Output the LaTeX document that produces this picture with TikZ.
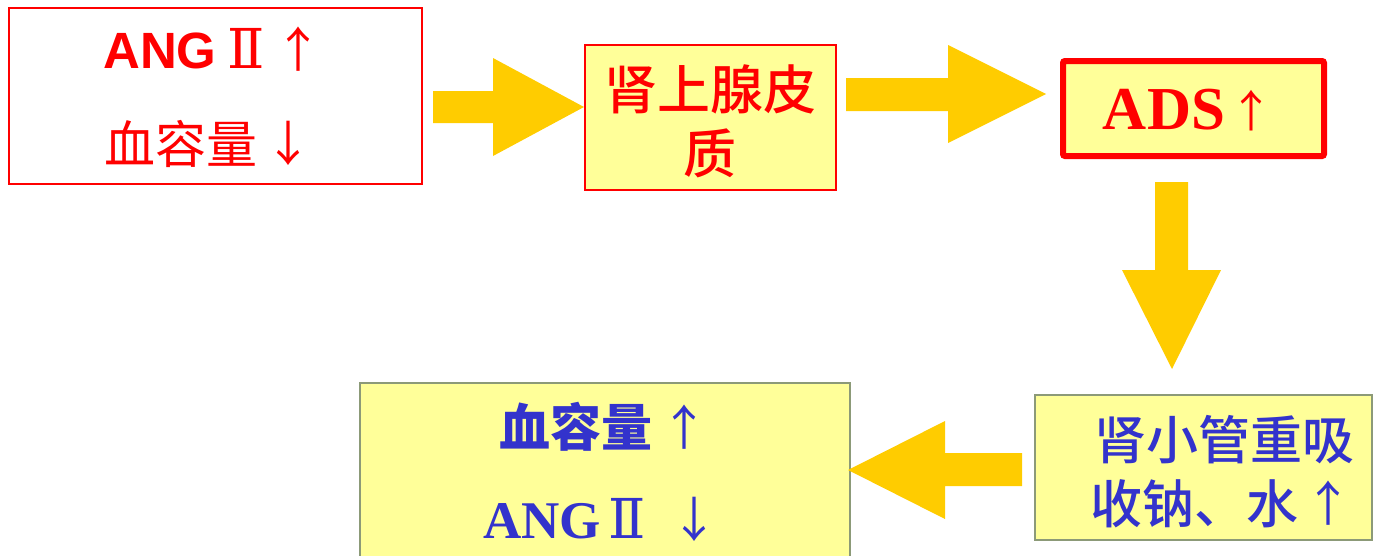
\documentclass[tikz,border=0pt]{standalone}
\usepackage{fontspec}
\newfontfamily\cjk{Noto Sans CJK SC}
\newfontfamily\cjkm{Noto Sans CJK SC}[UprightFont=* Medium]
\newfontfamily\sansf{Liberation Sans}
\newfontfamily\seriff{Liberation Serif}
\newfontfamily\romanf{DejaVu Serif}
\definecolor{boxyellow}{HTML}{FFFF99}
\definecolor{arrowgold}{HTML}{FFCC00}
\definecolor{txtblue}{HTML}{3333CC}
\definecolor{txtred}{HTML}{FF0000}
\definecolor{boxgray}{HTML}{8C9A78}
\begin{document}
\begin{tikzpicture}[x=1pt,y=-1pt,
  box/.style={draw, line width=1.5pt, inner sep=0pt, anchor=north west},
  blockarrow/.style={fill=arrowgold, draw=none},
  lbl/.style={inner sep=0pt, anchor=base},
  lblw/.style={inner sep=0pt, anchor=base west}]
\useasboundingbox (0,0) rectangle (1377,555);
\clip (0,0) rectangle (1377,555);
% boxes
\node[box, draw=txtred, fill=white, minimum width=413pt, minimum height=176pt] (b1) at (8,7) {};
\node[box, draw=txtred, fill=boxyellow, minimum width=251pt, minimum height=145pt] (b2) at (584,44) {};
\node[box, draw=txtred, fill=boxyellow, line width=6pt, rounded corners=2pt, minimum width=261pt, minimum height=95pt] (b3) at (1060,58) {};
\node[box, draw=boxgray, fill=boxyellow, minimum width=337pt, minimum height=145pt] (b4) at (1034,394) {};
\node[box, draw=boxgray, fill=boxyellow, minimum width=490pt, minimum height=190pt] (b5) at (359,382) {};
% block arrows
\path[blockarrow] (433,91) -- (493,91) -- (493,58) -- (584,107) -- (493,156) -- (493,123) -- (433,123) -- cycle;
\path[blockarrow] (846,78) -- (948,78) -- (948,45) -- (1046,94) -- (948,143) -- (948,111) -- (846,111) -- cycle;
\path[blockarrow] (1155,182) -- (1188,182) -- (1188,270) -- (1221,270) -- (1172,369) -- (1122,270) -- (1155,270) -- cycle;
\path[blockarrow] (1022,453) -- (945,453) -- (945,421) -- (848,470) -- (945,519) -- (945,486) -- (1022,486) -- cycle;
% box 1 text
\node[lbl, text=txtred, font=\fontsize{51}{51}\selectfont\sansf\bfseries] (t1a) at (160,68) {ANG};
\node[lbl, text=txtred, font=\fontsize{55}{55}\selectfont\romanf] (t1b) at (246,68) {Ⅱ};
\node[lbl, text=txtred, font=\fontsize{48}{48}\selectfont\cjk] (t1c) at (298,67) {↑};
\node[lbl, text=txtred, font=\fontsize{51}{51}\selectfont\cjk] (t1d) at (181,163) {血容量};
\node[lbl, text=txtred, font=\fontsize{48}{48}\selectfont\cjk] (t1e) at (288,161) {↓};
% box 2 text
\node[lbl, text=txtred, font=\fontsize{53}{53}\selectfont\cjkm] (t2a) at (710,109) {肾上腺皮};
\node[lbl, text=txtred, font=\fontsize{53}{53}\selectfont\cjkm] (t2b) at (710,173) {质};
% box 3 text
\node[lbl, text=txtred, font=\fontsize{61}{61}\selectfont\seriff\bfseries] (t3a) at (1164,129) {ADS};
\node[lbl, text=txtred, font=\fontsize{44}{44}\selectfont\cjk] (t3b) at (1251,127) {↑};
% box 4 text
\node[lbl, text=txtblue, font=\fontsize{52}{52}\selectfont\cjkm] (t4a) at (1224,459) {肾小管重吸};
\node[lblw, text=txtblue, font=\fontsize{52}{52}\selectfont\cjkm] (t4b) at (1090,523) {收钠、水};
\node[lbl, text=txtblue, font=\fontsize{48}{48}\selectfont\cjk] (t4c) at (1328,521) {↑};
% box 5 text
\node[lbl, text=txtblue, font=\fontsize{51}{51}\selectfont\cjk\bfseries] (t5a) at (576,446) {血容量};
\node[lbl, text=txtblue, font=\fontsize{48}{48}\selectfont\cjk] (t5b) at (684,445) {↑};
\node[lbl, text=txtblue, font=\fontsize{53}{53}\selectfont\seriff\bfseries] (t5c) at (542,538) {ANG};
\node[lbl, text=txtblue, font=\fontsize{55}{55}\selectfont\romanf] (t5d) at (627,538) {Ⅱ};
\node[lbl, text=txtblue, font=\fontsize{48}{48}\selectfont\cjk] (t5e) at (694,537) {↓};
\end{tikzpicture}
\end{document}
